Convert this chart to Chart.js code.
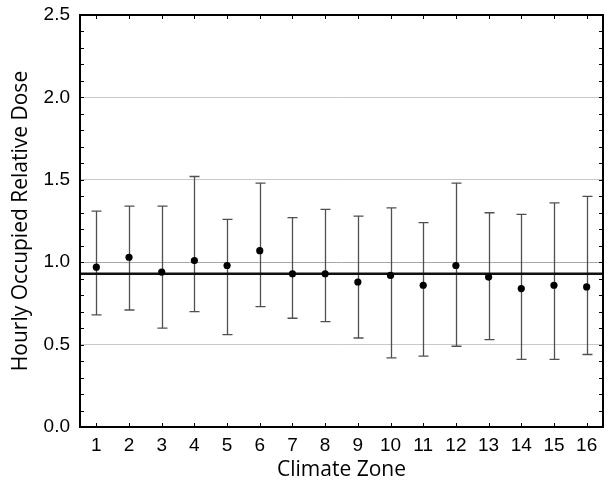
<!DOCTYPE html>
<html lang="en">
<head>
  <meta charset="UTF-8" />
  <title>Hourly Occupied Relative Dose by Climate Zone</title>
  <script src="https://cdn.jsdelivr.net/npm/chart.js"></script>
  <style>
    html, body {
      margin: 0;
      padding: 0;
      background: #ffffff;
      overflow: hidden;
    }
    canvas { display: block; }
  </style>
</head>
<body>
  <canvas id="doseChart" width="613" height="485"></canvas>

  <script>
    // data
    const zones = ['1', '2', '3', '4', '5', '6', '7', '8', '9', '10', '11', '12', '13', '14', '15', '16'];
    const meanDose = [0.97, 1.03, 0.94, 1.01, 0.98, 1.07, 0.93, 0.93, 0.88, 0.92, 0.86, 0.98, 0.91, 0.84, 0.86, 0.85];
    const upperDose = [1.31, 1.34, 1.34, 1.52, 1.26, 1.48, 1.27, 1.32, 1.28, 1.33, 1.24, 1.48, 1.30, 1.29, 1.36, 1.40];
    const lowerDose = [0.68, 0.71, 0.60, 0.70, 0.56, 0.73, 0.66, 0.64, 0.54, 0.42, 0.43, 0.49, 0.53, 0.41, 0.41, 0.44];
    const overallMean = 0.93;
    const yTicks = [0, 0.5, 1.0, 1.5, 2.0, 2.5];

    // error bars, overall mean line, frame and small inward ticks
    const extrasPlugin = {
      id: 'extras',
      beforeDatasetsDraw(chart) {
        const ctx = chart.ctx;
        const x = chart.scales.x;
        const y = chart.scales.y;
        const area = chart.chartArea;

        ctx.save();
        // error bars
        ctx.strokeStyle = '#505050';
        ctx.lineWidth = 1.3;
        zones.forEach((z, i) => {
          const px = Math.round(x.getPixelForValue(i)) + 0.5;
          const top = y.getPixelForValue(upperDose[i]);
          const bot = y.getPixelForValue(lowerDose[i]);
          ctx.beginPath();
          ctx.moveTo(px, top);
          ctx.lineTo(px, bot);
          ctx.moveTo(px - 5, top);
          ctx.lineTo(px + 5, top);
          ctx.moveTo(px - 5, bot);
          ctx.lineTo(px + 5, bot);
          ctx.stroke();
        });

        // overall mean
        const my = y.getPixelForValue(overallMean);
        ctx.strokeStyle = '#111111';
        ctx.lineWidth = 2.4;
        ctx.beginPath();
        ctx.moveTo(area.left, my);
        ctx.lineTo(area.right, my);
        ctx.stroke();
        ctx.restore();
      },
      afterDraw(chart) {
        const ctx = chart.ctx;
        const x = chart.scales.x;
        const y = chart.scales.y;
        const area = chart.chartArea;

        ctx.save();
        ctx.strokeStyle = '#000000';
        ctx.lineWidth = 1;
        // minor y ticks every 0.1, both sides
        for (let k = 1; k < 25; k++) {
          const py = Math.round(y.getPixelForValue(k / 10)) + 0.5;
          ctx.beginPath();
          ctx.moveTo(area.left, py);
          ctx.lineTo(area.left + 4, py);
          ctx.moveTo(area.right, py);
          ctx.lineTo(area.right - 4, py);
          ctx.stroke();
        }
        // x ticks top and bottom
        zones.forEach((z, i) => {
          const px = Math.round(x.getPixelForValue(i)) + 0.5;
          ctx.beginPath();
          ctx.moveTo(px, area.bottom);
          ctx.lineTo(px, area.bottom - 4);
          ctx.moveTo(px, area.top);
          ctx.lineTo(px, area.top + 4);
          ctx.stroke();
        });
        // frame
        ctx.lineWidth = 2;
        ctx.strokeRect(area.left, area.top, area.right - area.left, area.bottom - area.top);
        ctx.restore();
      }
    };

    new Chart(document.getElementById('doseChart'), {
      type: 'line',
      data: {
        labels: zones,
        datasets: [{
          label: 'Mean',
          data: meanDose,
          showLine: false,
          pointRadius: 3.6,
          pointHoverRadius: 3.6,
          pointBackgroundColor: '#000000',
          pointBorderColor: '#000000',
          pointBorderWidth: 0
        }]
      },
      options: {
        responsive: false,
        animation: false,
        layout: { padding: { top: 15, right: 10, left: 0, bottom: 0 } },
        plugins: {
          legend: { display: false },
          tooltip: { enabled: false }
        },
        scales: {
          x: {
            type: 'category',
            offset: true,
            afterFit(scale) { scale.height = 58; },
            grid: { display: false, drawTicks: false },
            border: { display: false },
            ticks: {
              color: '#000000',
              padding: 7,
              autoSkip: false,
              maxRotation: 0,
              minRotation: 0,
              font: { family: 'Liberation Sans', size: 19 }
            },
            title: {
              display: true,
              text: 'Climate Zone',
              color: '#000000',
              padding: { top: 0, bottom: 2 },
              font: { family: 'Open Sans', size: 21 }
            }
          },
          y: {
            min: 0,
            max: 2.5,
            afterFit(scale) {
              scale.width = 80;
              scale.paddingTop = 0;
              scale.paddingBottom = 0;
            },
            afterBuildTicks(scale) {
              scale.ticks = yTicks.map(v => ({ value: v }));
            },
            grid: {
              drawTicks: false,
              color: ctx => ctx.tick && ctx.tick.value === 1 ? '#a8a8a8' : '#c8c8c8',
              lineWidth: 1
            },
            border: { display: false },
            ticks: {
              color: '#000000',
              padding: 10,
              font: { family: 'Liberation Sans', size: 19 },
              callback: v => Number(v).toFixed(1)
            },
            title: {
              display: true,
              text: 'Hourly Occupied Relative Dose',
              color: '#000000',
              padding: { top: 8, bottom: 0 },
              font: { family: 'Open Sans', size: 21 }
            }
          }
        }
      },
      plugins: [extrasPlugin]
    });
  </script>
</body>
</html>
